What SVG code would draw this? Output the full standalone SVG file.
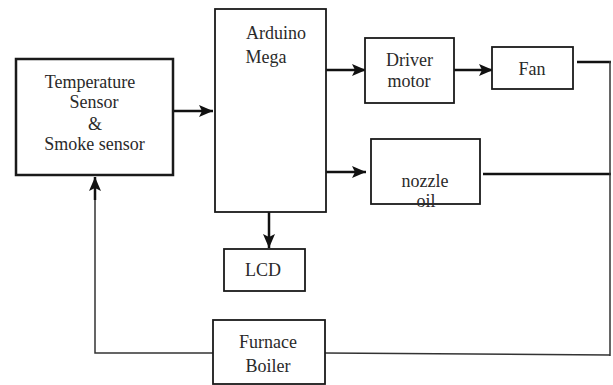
<svg xmlns="http://www.w3.org/2000/svg" width="613" height="385" viewBox="0 0 613 385" font-family="Liberation Serif, Times New Roman, Tinos, DejaVu Serif, serif">
<style>
.box{fill:#fff;stroke:#1a1a1a;stroke-width:1.8}
.tb{fill:#fff;stroke:#1a1a1a;stroke-width:2.5}
.t{font-size:18px;fill:#2a2a2a;text-anchor:middle}
.c{fill:none;stroke:#111;stroke-width:2.5}
.thin{fill:none;stroke:#333;stroke-width:1.5}
</style>
<defs>
<marker id="ah" viewBox="0 0 14 12" refX="14" refY="6" markerWidth="14" markerHeight="12" markerUnits="userSpaceOnUse" orient="auto">
<path d="M0,0 L14,6 L0,12 L3,6 Z" fill="#111"/>
</marker>
</defs>
<rect width="613" height="385" fill="#fff"/>
<g id="connectors">
<line class="c" x1="173" y1="111" x2="213" y2="111" marker-end="url(#ah)"/>
<line class="c" x1="326" y1="70" x2="366" y2="70" marker-end="url(#ah)"/>
<line class="c" x1="326" y1="172" x2="366" y2="172" marker-end="url(#ah)"/>
<line class="c" x1="454" y1="70" x2="493" y2="70" marker-end="url(#ah)"/>
<line class="c" x1="269" y1="212" x2="269" y2="248" marker-end="url(#ah)"/>
<line class="c" x1="577" y1="62" x2="611" y2="62"/>
<line class="c" x1="483" y1="174" x2="611" y2="174"/>
<line class="thin" x1="610" y1="61" x2="610" y2="356"/>
<polyline class="thin" points="325,353 610,355"/>
<polyline class="thin" points="213,353 95,353 95,190"/>
<line class="c" x1="95" y1="200" x2="95" y2="177" marker-end="url(#ah)"/>
</g>
<g id="temp" class="t">
<rect class="tb" x="16" y="59" width="157" height="116"/>
<text x="90" y="88">Temperature</text>
<text x="94" y="108">Sensor</text>
<text x="95" y="130">&amp;</text>
<text x="94.5" y="150">Smoke sensor</text>
</g>
<g id="arduino" class="t">
<rect class="box" x="215" y="9" width="111" height="203"/>
<text x="276" y="39">Arduino</text>
<text x="266" y="63">Mega</text>
</g>
<g id="driver" class="t">
<rect class="box" x="365" y="38" width="89" height="65"/>
<text x="409.5" y="66">Driver</text>
<text x="409" y="87">motor</text>
</g>
<g id="fan" class="t">
<rect class="box" x="492" y="47" width="81" height="42"/>
<text x="532" y="75">Fan</text>
</g>
<g id="nozzle" class="t">
<rect class="box" x="371" y="139" width="109" height="65"/>
<text x="425" y="187">nozzle</text>
<text x="426" y="207">oil</text>
</g>
<g id="lcd" class="t">
<rect class="box" x="224" y="249" width="81" height="42"/>
<text x="263" y="276">LCD</text>
</g>
<g id="furnace" class="t">
<rect class="box" x="213" y="320" width="112" height="64"/>
<text x="268" y="348">Furnace</text>
<text x="268" y="372">Boiler</text>
</g>
</svg>
